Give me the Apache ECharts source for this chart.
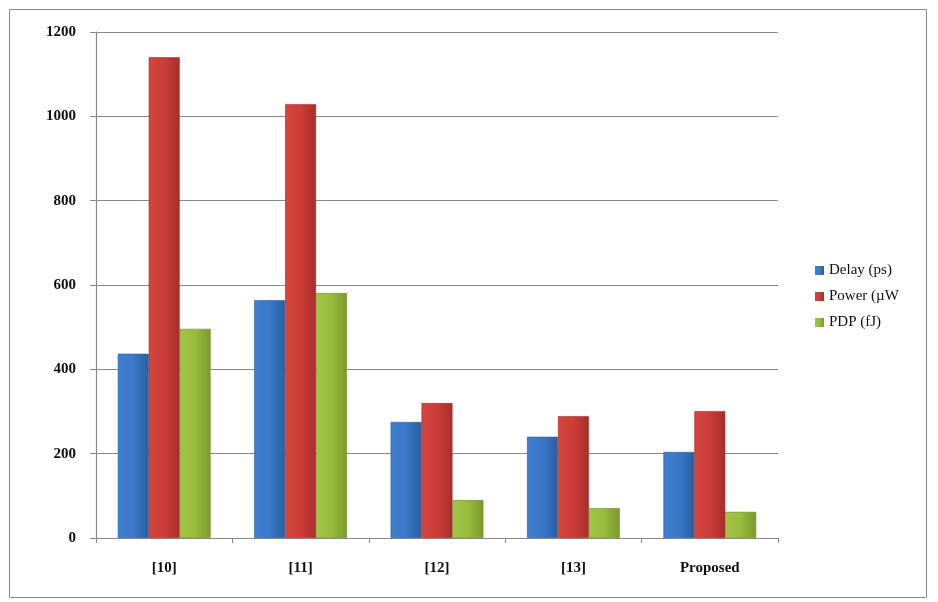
<!DOCTYPE html>
<html>
<head>
<meta charset="utf-8">
<script src="https://cdn.jsdelivr.net/npm/echarts@6/dist/echarts.min.js"></script>
<style>
  html, body { margin: 0; padding: 0; background: #fff; }
  #main { width: 938px; height: 602px; }
</style>
</head>
<body>
<div id="main"></div>
<script>
// data
var categories = ['[10]', '[11]', '[12]', '[13]', 'Proposed'];
var delay = [437, 564, 275, 240, 204];
var power = [1140, 1029, 320, 289, 301];
var pdp = [496, 581, 90, 71, 62];
var seriesNames = ['Delay (ps)', 'Power (\u00b5W', 'PDP (fJ)'];

var serif = '"Liberation Serif", "DejaVu Serif", serif';

// horizontal gradient to fake the bevelled Excel look
function barFill(light, mid, dark) {
  return new echarts.graphic.LinearGradient(0, 0, 1, 0, [
    { offset: 0, color: light },
    { offset: 0.5, color: mid },
    { offset: 1, color: dark }
  ]);
}

function makeSeries(name, data, fill, border) {
  return {
    name: name,
    type: 'bar',
    data: data,
    barGap: '0%',
    barCategoryGap: '32%',
    itemStyle: { color: fill, borderColor: border, borderWidth: 0.6 }
  };
}

var chart = echarts.init(document.getElementById('main'));

var option = {
  animation: false,
  backgroundColor: '#fff',
  graphic: [{
    type: 'rect',
    shape: { x: 9.5, y: 9.5, width: 917, height: 588 },
    style: { fill: 'none', stroke: '#8c8c8c', lineWidth: 1 },
    silent: true
  }],
  grid: { left: 96, right: 160, top: 32, bottom: 64 },
  legend: {
    orient: 'vertical',
    left: 810,
    top: 258,
    itemWidth: 9,
    itemHeight: 9,
    itemGap: 11,
    icon: 'rect',
    itemStyle: { borderWidth: 0 },
    textStyle: { fontFamily: serif, fontSize: 15, color: '#111' },
    data: seriesNames
  },
  xAxis: {
    type: 'category',
    data: categories,
    axisLine: { lineStyle: { color: '#8a8a8a', width: 1.2 } },
    axisTick: { show: true, length: 5, alignWithLabel: false, lineStyle: { color: '#8a8a8a' } },
    axisLabel: { fontFamily: serif, fontWeight: 'bold', fontSize: 15, color: '#111', margin: 23 }
  },
  yAxis: {
    type: 'value',
    min: 0,
    max: 1200,
    interval: 200,
    axisLine: { show: true, lineStyle: { color: '#8a8a8a', width: 1.2 } },
    axisTick: { show: true, length: 6, lineStyle: { color: '#8a8a8a' } },
    axisLabel: {
      fontFamily: serif, fontWeight: 'bold', fontSize: 15, color: '#111', margin: 20,
      formatter: function (v) { return String(v); }
    },
    splitLine: { lineStyle: { color: '#8a8a8a', width: 1 } }
  },
  series: [
    makeSeries(seriesNames[0], delay, barFill('#3f7fd0', '#3a78c8', '#2b5f9f'), '#2c5a94'),
    makeSeries(seriesNames[1], power, barFill('#d6453f', '#cc3d38', '#a72e2a'), '#9b2c29'),
    makeSeries(seriesNames[2], pdp, barFill('#a3c648', '#97bb3c', '#7a9a2c'), '#6f8c2a')
  ]
};

chart.clear();
chart.setOption(option);
</script>
</body>
</html>
